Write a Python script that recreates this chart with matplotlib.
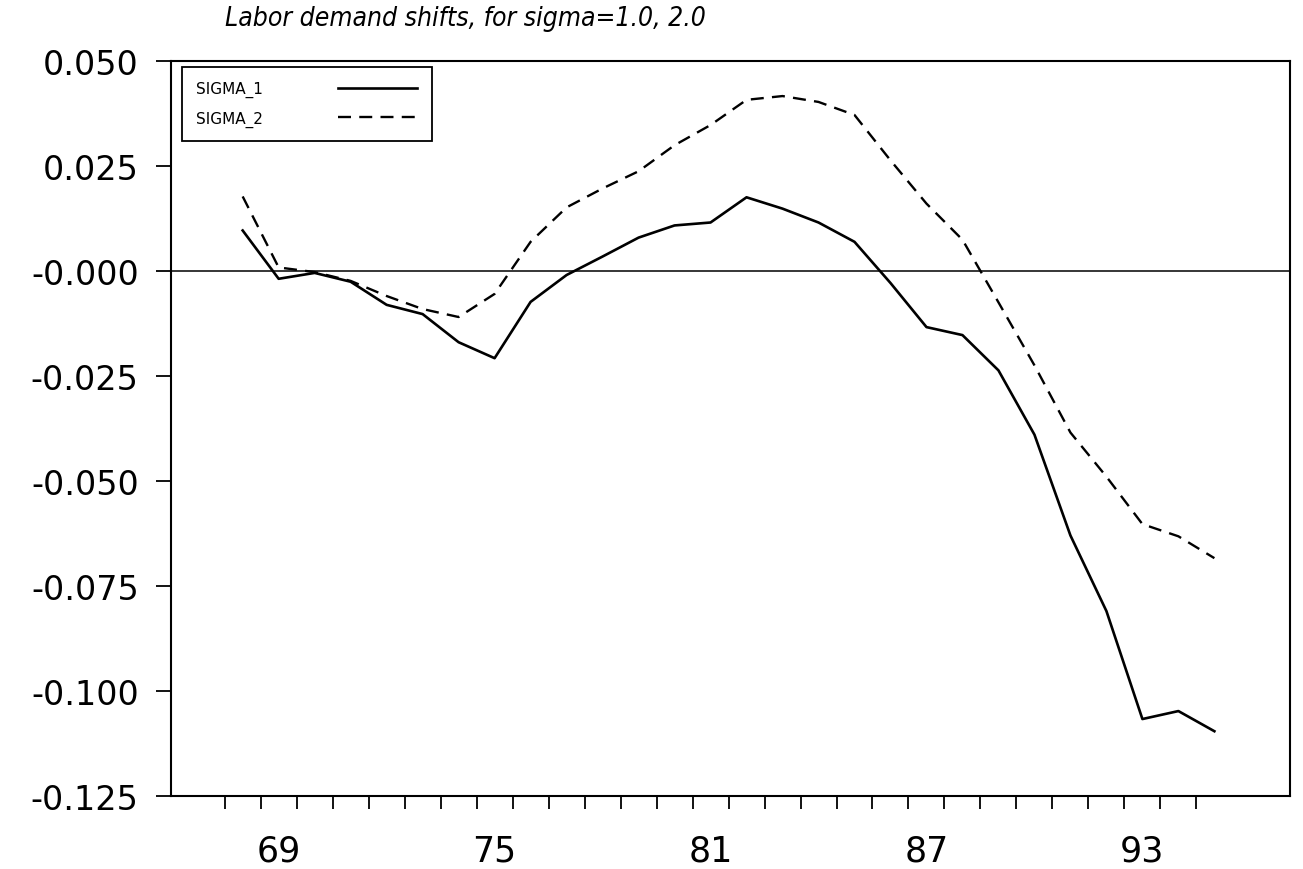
"""
Labor demand shifts chart, for sigma = 1.0 and 2.0.
"""
import matplotlib
matplotlib.use('Agg')
import matplotlib.pyplot as plt
from matplotlib import font_manager
from matplotlib.ticker import FixedLocator, NullFormatter


# Data: one value per year, 1968 - 1995
years = list(range(68, 96))
sigma_1 = [0.0096, -0.0019, -0.0005, -0.0026, -0.0081, -0.0103, -0.0170, -0.0208,
           -0.0074, -0.0010, 0.0034, 0.0079, 0.0108, 0.0115, 0.0175, 0.0148,
           0.0115, 0.0069, -0.0029, -0.0134, -0.0153, -0.0237, -0.0390, -0.0630,
           -0.0810, -0.1067, -0.1048, -0.1096]
sigma_2 = [0.0177, 0.0008, -0.0003, -0.0024, -0.0060, -0.0091, -0.0110, -0.0055,
           0.0069, 0.0151, 0.0196, 0.0237, 0.0299, 0.0347, 0.0407, 0.0416,
           0.0402, 0.0371, 0.0263, 0.0160, 0.0074, -0.0075, -0.0225, -0.0385,
           -0.0490, -0.0603, -0.0632, -0.0684]

y_ticks = [0.050, 0.025, 0.0, -0.025, -0.050, -0.075, -0.100, -0.125]
y_tick_labels = ['0.050', '0.025', '-0.000', '-0.025', '-0.050', '-0.075', '-0.100', '-0.125']
x_label_years = [69, 75, 81, 87, 93]


def pick_family(names):
    for name in names:
        try:
            font_manager.findfont(name, fallback_to_default=False)
            return name
        except Exception:
            continue
    return 'DejaVu Sans'


narrow = pick_family(['Liberation Sans Narrow', 'DejaVu Sans'])

fig = plt.figure(figsize=(13.03, 8.70), dpi=100)
ax = fig.add_axes([0.131, 0.084, 0.859, 0.845])

ax.plot(years, sigma_1, color='black', linewidth=1.9, label='SIGMA_1')
ax.plot(years, sigma_2, color='black', linewidth=1.7, dashes=(5.5, 3.5), label='SIGMA_2')
ax.axhline(0.0, color='black', linewidth=1.1, zorder=1)

ax.set_xlim(66.0, 97.1)
ax.set_ylim(-0.125, 0.050)

# year boundaries get the tick marks, labels sit in the middle of the year
ax.xaxis.set_major_locator(FixedLocator(x_label_years))
ax.set_xticklabels([str(y) for y in x_label_years])
ax.xaxis.set_minor_locator(FixedLocator([y - 0.5 for y in years]))
ax.xaxis.set_minor_formatter(NullFormatter())
ax.tick_params(axis='x', which='major', length=0, pad=27, labelsize=25)
ax.tick_params(axis='x', which='minor', direction='out', length=9, width=1.3)

ax.set_yticks(y_ticks)
ax.set_yticklabels(y_tick_labels)
ax.tick_params(axis='y', direction='out', length=11, width=1.3, pad=12, labelsize=24)

for side in ['top', 'bottom', 'left', 'right']:
    ax.spines[side].set_linewidth(1.5)
    ax.spines[side].set_color('black')

leg = ax.legend(loc='upper left', bbox_to_anchor=(0.0098, 0.992), borderaxespad=0,
                markerfirst=False, handlelength=5.2, handletextpad=4.9,
                fancybox=False, framealpha=1, edgecolor='black',
                prop={'family': narrow, 'size': 11}, labelspacing=0.85,
                borderpad=0.95)
leg.get_frame().set_linewidth(1.3)

fig.text(0.357, 0.978, 'Labor demand shifts, for sigma=1.0, 2.0',
         ha='center', va='center', fontsize=19, style='italic',
         family=narrow, fontstretch='condensed')

fig.savefig('out.png', dpi=100, facecolor='white')
